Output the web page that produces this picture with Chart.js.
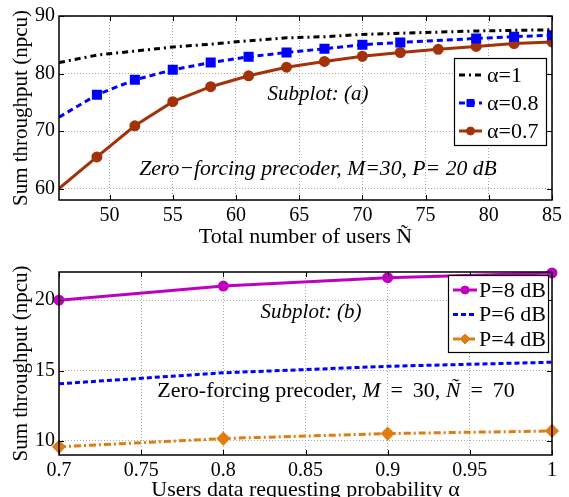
<!DOCTYPE html>
<html>
<head>
<meta charset="utf-8">
<script src="https://cdn.jsdelivr.net/npm/chart.js@4.4.1/dist/chart.umd.min.js"></script>
<style>
  html, body { margin: 0; padding: 0; background: #fff; overflow: hidden; }
  #wrap { position: relative; width: 569px; height: 497px; overflow: hidden; }
  #topBox { position: absolute; left: 0; top: 0; width: 569px; height: 250px; }
  #botBox { position: absolute; left: 0; top: 250px; width: 569px; height: 260px; }
</style>
</head>
<body>
<div id="wrap">
  <div id="topBox"><canvas id="topChart"></canvas></div>
  <div id="botBox"><canvas id="bottomChart"></canvas></div>
</div>
<script>
// Subplot (a): sum throughput vs total number of users
const usersN = [46, 49, 52, 55, 58, 61, 64, 67, 70, 73, 76, 79, 82, 85];
const sumAlpha1 = [81.9, 83.2, 83.9, 84.6, 85.1, 85.7, 86.2, 86.4, 86.8, 87.0, 87.2, 87.4, 87.5, 87.6];
const usersNAlpha08 = [46, 49, 52, 55, 58, 61, 64, 67, 70, 73, 79, 82, 85];
const sumAlpha08 = [72.4, 76.3, 78.9, 80.65, 81.9, 82.9, 83.65, 84.3, 85.0, 85.4, 86.1, 86.4, 86.65];
const sumAlpha07 = [60.0, 65.5, 70.9, 75.1, 77.7, 79.6, 81.1, 82.1, 83.0, 83.65, 84.2, 84.7, 85.2, 85.5];

// Subplot (b): sum throughput vs requesting probability
const alphaProb = [0.7, 0.8, 0.9, 1.0];
const sumP8 = [20.0, 21.0, 21.6, 21.93];
const sumP6 = [14.06, 14.84, 15.3, 15.59];
const sumP4 = [9.58, 10.17, 10.52, 10.71];

const topXTicks = [50, 55, 60, 65, 70, 75, 80, 85];
const topYTicks = [60, 70, 80, 90];
const botXTicks = [0.7, 0.75, 0.8, 0.85, 0.9, 0.95, 1];
const botYTicks = [10, 15, 20];

const SERIF = '"Liberation Serif", "Times New Roman", serif';
const pts = (xs, ys) => xs.map((x, i) => ({ x: x, y: ys[i] }));

function drawMarker(ctx, style, r, x, y, color) {
    ctx.save();
    ctx.setLineDash([]);
    ctx.fillStyle = color;
    ctx.strokeStyle = color;
    ctx.lineWidth = 1;
    ctx.beginPath();
    if (style === 'rect') {
        const s = Math.SQRT1_2 * r;
        ctx.rect(x - s, y - s, 2 * s, 2 * s);
    } else if (style === 'rectRot') {
        ctx.moveTo(x, y - r); ctx.lineTo(x + r, y); ctx.lineTo(x, y + r); ctx.lineTo(x - r, y); ctx.closePath();
    } else {
        ctx.arc(x, y, r, 0, Math.PI * 2);
    }
    ctx.fill();
    ctx.stroke();
    ctx.restore();
}

// box, inward ticks, legend and notes, matlab style
function decor(cfg) {
    return {
        id: 'decor',
        afterDraw(chart) {
            const ctx = chart.ctx;
            const a = chart.chartArea;
            const xs = chart.scales.x, ys = chart.scales.y;
            ctx.save();
            ctx.strokeStyle = '#000';
            ctx.lineWidth = 1;
            ctx.setLineDash([]);
            ctx.beginPath();
            xs.ticks.forEach(t => {
                const px = Math.round(xs.getPixelForValue(t.value)) + 0.5;
                ctx.moveTo(px, a.bottom); ctx.lineTo(px, a.bottom - 5);
                ctx.moveTo(px, a.top); ctx.lineTo(px, a.top + 5);
            });
            ys.ticks.forEach(t => {
                const py = Math.round(ys.getPixelForValue(t.value)) + 0.5;
                ctx.moveTo(a.left, py); ctx.lineTo(a.left + 5, py);
                ctx.moveTo(a.right, py); ctx.lineTo(a.right - 5, py);
            });
            ctx.stroke();
            ctx.lineWidth = 1.5;
            ctx.strokeRect(a.left, a.top, a.right - a.left, a.bottom - a.top);

            // notes
            ctx.fillStyle = '#000';
            ctx.textBaseline = 'alphabetic';
            ctx.textAlign = 'left';
            cfg.notes.forEach(n => {
                let w = 0;
                n.parts.forEach(p => { ctx.font = (p[1] ? 'italic ' : '') + n.size + 'px ' + SERIF; w += ctx.measureText(p[0]).width; });
                let x = n.cx - w / 2;
                n.parts.forEach(p => {
                    ctx.font = (p[1] ? 'italic ' : '') + n.size + 'px ' + SERIF;
                    ctx.fillText(p[0], x, n.y);
                    x += ctx.measureText(p[0]).width;
                });
            });

            // legend
            const L = cfg.legend;
            ctx.fillStyle = '#fff';
            ctx.fillRect(L.x, L.y, L.w, L.h);
            ctx.lineWidth = 1.2;
            ctx.strokeStyle = '#000';
            ctx.strokeRect(L.x + 0.5, L.y + 0.5, L.w, L.h);
            chart.data.datasets.forEach((ds, i) => {
                const y = L.y + L.row0 + i * L.gap;
                ctx.strokeStyle = ds.borderColor;
                ctx.lineWidth = ds.borderWidth;
                ctx.setLineDash(ds.borderDash || []);
                ctx.beginPath();
                ctx.moveTo(L.x + L.s0, y);
                ctx.lineTo(L.x + L.s1, y);
                ctx.stroke();
                const r = Array.isArray(ds.pointRadius) ? Math.max(...ds.pointRadius) : ds.pointRadius;
                if (r > 0) drawMarker(ctx, ds.pointStyle, r, L.x + (L.s0 + L.s1) / 2, y, ds.borderColor);
                ctx.fillStyle = '#000';
                ctx.font = L.size + 'px ' + SERIF;
                ctx.textBaseline = 'middle';
                ctx.fillText(ds.label, L.x + L.tx, y + 1);
            });
            ctx.restore();
        }
    };
}

function axes(xMin, xMax, xTicks, yMin, yMax, yTicks, xTitle, xh, xTitlePad) {
    const tickFont = { family: SERIF, size: 20 };
    const titleFont = { family: SERIF, size: 21 };
    return {
        x: {
            type: 'linear', min: xMin, max: xMax,
            afterBuildTicks: s => { s.ticks = xTicks.map(v => ({ value: v })); },
            afterFit: s => { s.height = xh; },
            ticks: { font: tickFont, color: '#000', padding: 4, maxRotation: 0, autoSkip: false, callback: v => String(v) },
            grid: { color: '#a8a8a8', lineWidth: 1, drawTicks: false },
            border: { display: false, dash: [1, 2] },
            title: { display: true, text: xTitle, font: { family: SERIF, size: 22 }, color: '#000', padding: { top: 0, bottom: xTitlePad } }
        },
        y: {
            min: yMin, max: yMax,
            afterBuildTicks: s => { s.ticks = yTicks.map(v => ({ value: v })); },
            afterFit: s => { s.width = 59; },
            ticks: { font: tickFont, color: '#000', padding: 4, callback: v => String(v) },
            grid: { color: '#a8a8a8', lineWidth: 1, drawTicks: false },
            border: { display: false, dash: [1, 2] },
            title: { display: true, text: 'Sum throughput (npcu)', font: titleFont, color: '#000', padding: { top: 9, bottom: 0 } }
        }
    };
}

new Chart(document.getElementById('topChart'), {
    type: 'line',
    data: {
        datasets: [
        {
            label: 'α=1',
            data: pts(usersN, sumAlpha1),
            borderColor: '#000000',
            borderWidth: 3,
            borderDash: [6, 4, 2, 4],
            pointRadius: 0
        },
        {
            label: 'α=0.8',
            data: pts(usersNAlpha08, sumAlpha08),
            borderColor: '#0000ff',
            backgroundColor: '#0000ff',
            borderWidth: 3,
            borderDash: [6, 4],
            pointStyle: 'rect',
            pointRadius: usersNAlpha08.map((v, i) => i === 0 ? 0 : 5),
            pointBackgroundColor: '#0000ff'
        },
        {
            label: 'α=0.7',
            data: pts(usersN, sumAlpha07),
            borderColor: '#a3320b',
            backgroundColor: '#a3320b',
            borderWidth: 3,
            pointStyle: 'circle',
            pointRadius: usersN.map((v, i) => i === 0 ? 0 : 4),
            pointBackgroundColor: '#a3320b'
        }]
    },
    options: {
        responsive: true,
        maintainAspectRatio: false,
        animation: false,
        layout: { padding: { left: 0, right: 17, top: 15, bottom: 0 } },
        plugins: { legend: { display: false }, tooltip: { enabled: false } },
        scales: axes(46, 85, topXTicks, 58, 90, topYTicks, 'Total number of users Ñ', 50, 0)
    },
    plugins: [decor({
        legend: { x: 454, y: 58, w: 92, h: 87, row0: 17, gap: 28, s0: 5, s1: 28, tx: 33, size: 22 },
        notes: [
            { cx: 318, y: 100, size: 21, parts: [['Subplot: (a)', true]] },
            { cx: 318, y: 175, size: 21.7, parts: [['Zero−forcing precoder, M=30, P= 20 dB', true]] }
        ]
    })]
});

new Chart(document.getElementById('bottomChart'), {
    type: 'line',
    data: {
        datasets: [
        {
            label: 'P=8 dB',
            data: pts(alphaProb, sumP8),
            borderColor: '#c000c0',
            backgroundColor: '#c000c0',
            borderWidth: 3,
            pointStyle: 'circle',
            pointRadius: 4,
            pointBackgroundColor: '#c000c0'
        },
        {
            label: 'P=6 dB',
            data: pts(alphaProb, sumP6),
            borderColor: '#0000ff',
            borderWidth: 3,
            borderDash: [5, 3],
            pointRadius: 0
        },
        {
            label: 'P=4 dB',
            data: pts(alphaProb, sumP4),
            borderColor: '#e07d10',
            backgroundColor: '#e07d10',
            borderWidth: 3,
            borderDash: [7, 3, 2, 3],
            pointStyle: 'rectRot',
            pointRadius: 5,
            pointBackgroundColor: '#e07d10'
        }]
    },
    options: {
        responsive: true,
        maintainAspectRatio: false,
        animation: false,
        clip: false,
        layout: { padding: { left: 0, right: 17, top: 22, bottom: 0 } },
        plugins: { legend: { display: false }, tooltip: { enabled: false } },
        scales: axes(0.7, 1, botXTicks, 9, 22, botYTicks, 'Users data requesting probability α', 55, 7)
    },
    plugins: [decor({
        legend: { x: 448, y: 25, w: 100, h: 77, row0: 15, gap: 24.5, s0: 5, s1: 29, tx: 31, size: 22 },
        notes: [
            { cx: 311, y: 68, size: 21, parts: [['Subplot: (b)', true]] },
            { cx: 336, y: 147, size: 22, parts: [['Zero-forcing precoder, ', false], ['M', true], ['\u2009 = \u200930, ', false], ['Ñ', true], ['\u2009 = \u200970', false]] }
        ]
    })]
});
</script>
</body>
</html>
